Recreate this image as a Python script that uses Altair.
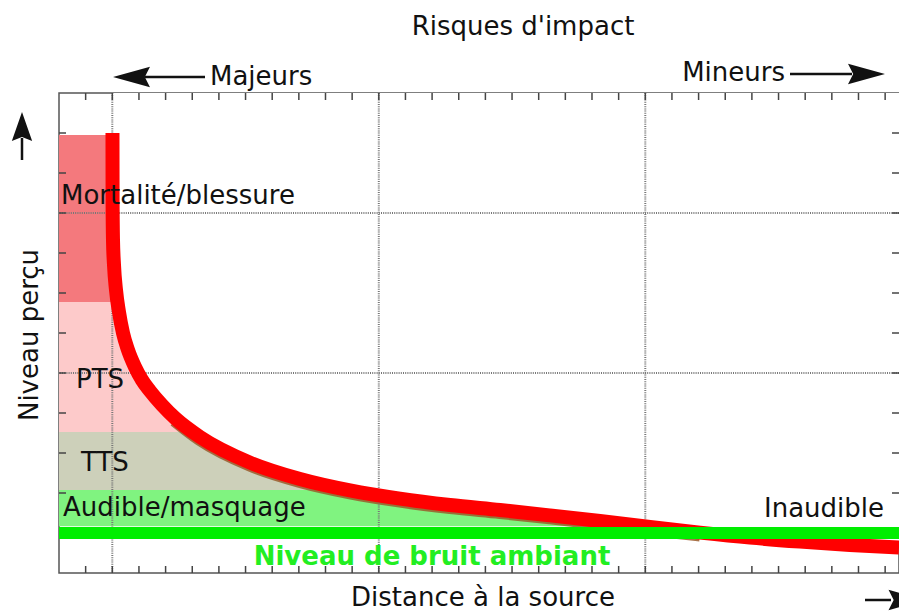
import altair as alt
import pandas as pd

# ---------------- data ----------------
curve_x = [2.007, 2.011, 2.026, 2.064, 2.139, 2.251, 2.401, 2.589, 2.852, 3.114,
           3.415, 3.865, 4.353, 5.291, 7.167, 9.043, 10.919, 12.795, 14.672,
           16.548, 18.424, 20.300, 22.176, 24.053, 25.929, 27.805, 29.681, 31.520]
curve_y = [11.000, 9.325, 8.325, 7.700, 7.075, 6.525, 6.000, 5.575, 5.150, 4.825,
           4.550, 4.200, 3.875, 3.400, 2.760, 2.350, 2.065, 1.858, 1.700,
           1.575, 1.440, 1.300, 1.150, 1.010, 0.885, 0.785, 0.700, 0.638]

band_names = ["Mortalité/blessure", "PTS", "TTS", "Audible/masquage"]
band_lo = [6.775, 3.525, 2.075, 1.17]
band_hi = [10.95, 6.775, 3.525, 2.075]
band_colors = ["#f4797d", "#fdcaca", "#cdd0ba", "#80f380"]

ambient_level = [1.0]
x_ticks = list(range(1, 32))
y_ticks = list(range(1, 12))
grid_x = [2, 12, 22]
grid_y = [1, 5, 9]

XMAX = 31.52
YMAX = 12
W, H = 840, 480
FONT = "DejaVu Sans"
FS = 26

xs = alt.Scale(domain=[0, XMAX], nice=False, zero=False)
ys = alt.Scale(domain=[0, YMAX], nice=False, zero=False)

curve = pd.DataFrame({"x": curve_x, "y": curve_y})
curve["top"] = YMAX

bands_df = pd.DataFrame({"name": band_names, "lo": band_lo, "hi": band_hi,
                         "color": band_colors})
bands_df["x0"] = 0
bands_df["x1"] = XMAX

# ---------------- layers ----------------
bands = alt.Chart(bands_df).mark_rect().encode(
    x=alt.X("x0:Q", scale=xs, axis=None), x2="x1:Q",
    y=alt.Y("lo:Q", scale=ys, axis=None), y2="hi:Q",
    color=alt.Color("color:N", scale=None),
)

cover = alt.Chart(curve).mark_area(color="white", interpolate="monotone").encode(
    x=alt.X("x:Q", scale=xs, axis=None),
    y=alt.Y("y:Q", scale=ys, axis=None), y2="top:Q",
)

shadow = alt.Chart(curve).transform_filter(
    "datum.x >= 4.3 && datum.x <= 24.1"
).mark_line(color="#9a5a2a", strokeWidth=14, interpolate="monotone",
            strokeCap="butt", yOffset=2, opacity=0.85).encode(
    x=alt.X("x:Q", scale=xs, axis=None),
    y=alt.Y("y:Q", scale=ys, axis=None),
)

grid_v = alt.Chart(pd.DataFrame({"g": grid_x})).mark_rule(
    color="#777", strokeWidth=2, strokeDash=[1, 1.2]).encode(
    x=alt.X("g:Q", scale=xs, axis=None))
grid_h = alt.Chart(pd.DataFrame({"g": grid_y})).mark_rule(
    color="#777", strokeWidth=2, strokeDash=[1, 1.2]).encode(
    y=alt.Y("g:Q", scale=ys, axis=None))

tick_style = dict(color="#444", strokeWidth=1.5)
xt = pd.DataFrame({"t": x_ticks})
yt = pd.DataFrame({"t": y_ticks})
ticks_top = alt.Chart(xt).mark_rule(**tick_style).encode(
    x=alt.X("t:Q", scale=xs, axis=None), y=alt.value(0), y2=alt.value(7))
ticks_bot = alt.Chart(xt).mark_rule(**tick_style).encode(
    x=alt.X("t:Q", scale=xs, axis=None), y=alt.value(H - 7), y2=alt.value(H))
ticks_left = alt.Chart(yt).mark_rule(**tick_style).encode(
    y=alt.Y("t:Q", scale=ys, axis=None), x=alt.value(0), x2=alt.value(7))
ticks_right = alt.Chart(yt).mark_rule(**tick_style).encode(
    y=alt.Y("t:Q", scale=ys, axis=None), x=alt.value(W - 7), x2=alt.value(W))

red = alt.Chart(curve).mark_line(color="#ff0000", strokeWidth=14,
                                 interpolate="monotone", strokeCap="butt").encode(
    x=alt.X("x:Q", scale=xs, axis=None),
    y=alt.Y("y:Q", scale=ys, axis=None),
)

ambient = alt.Chart(pd.DataFrame({"a": ambient_level})).mark_rule(
    color="#00ee00", strokeWidth=12).encode(
    y=alt.Y("a:Q", scale=ys, axis=None))


def label(txt, x, y, align="left", size=FS, color="#111", weight="normal", angle=0):
    return alt.Chart(pd.DataFrame({"t": [txt]})).mark_text(
        align=align, baseline="middle", font=FONT, fontSize=size, color=color,
        fontWeight=weight, angle=angle).encode(
        text="t:N", x=alt.value(x), y=alt.value(y))


texts = [
    label("Risques d'impact", 464, -66, align="center"),
    label("Majeurs", 151, -16),
    label("Mineurs", 726, -20, align="right"),
    label(band_names[0], 2, 103),
    label(band_names[1], 17, 287),
    label(band_names[2], 22, 370),
    label(band_names[3], 4, 415),
    label("Inaudible", 825, 416, align="right"),
    label("Niveau de bruit ambiant", 373, 464, align="center",
          color="#22ee22", weight="bold"),
    label("Niveau perçu", -29, 242, align="center", angle=270),
    label("Distance à la source", 424, 505, align="center"),
]


def shaft(x1, x2, y1, y2):
    return alt.Chart(pd.DataFrame({"k": [0]})).mark_rule(
        color="#111", strokeWidth=2.5).encode(
        x=alt.value(x1), x2=alt.value(x2), y=alt.value(y1), y2=alt.value(y2))


def head(x, y, path, size):
    return alt.Chart(pd.DataFrame({"k": [0]})).mark_point(
        shape=path, size=size, filled=True, color="#111", opacity=1,
        strokeWidth=0).encode(x=alt.value(x), y=alt.value(y))


LEFT = "M -1 0 L 1 -0.55 L 0.72 0 L 1 0.55 Z"
RIGHT = "M 1 0 L -1 -0.55 L -0.72 0 L -1 0.55 Z"
UP = "M 0 -1 L 0.7 1 L 0 0.72 L -0.7 1 Z"

arrows = [
    shaft(86, 146, -16, -16), head(72.5, -16, LEFT, 1369),
    shaft(731, 793, -19, -19), head(807.5, -19, RIGHT, 1369),
    shaft(-37, -37, 45, 67), head(-37, 33.5, UP, 841),
    shaft(806, 832, 507, 507), head(848, 507, RIGHT, 1369),
]

chart = alt.layer(
    bands, cover, shadow, grid_v, grid_h,
    ticks_top, ticks_bot, ticks_left, ticks_right,
    red, ambient, *texts, *arrows,
).properties(
    width=W, height=H,
    autosize=alt.AutoSizeParams(type="none"),
    padding={"left": 51, "top": 85, "right": 0, "bottom": 40},
    background="white",
).configure_view(stroke="#555", strokeWidth=1.5)

chart.save("out.html", embed_options={"renderer": "svg", "actions": False})
